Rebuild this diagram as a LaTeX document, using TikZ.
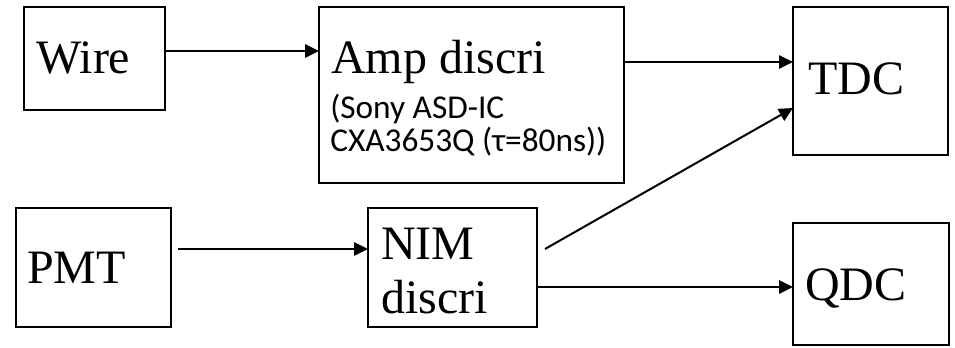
\documentclass[tikz,border=0pt]{standalone}
\usepackage{fontspec}
\setmainfont{Liberation Serif}
\newfontfamily\carlito{Carlito}
\usetikzlibrary{arrows.meta}

\begin{document}
\begin{tikzpicture}[x=0.75pt,y=-0.75pt,
  blk/.style={draw,line width=1.4pt,inner sep=0pt,outer sep=0pt,anchor=north west},
  lbl/.style={anchor=base west,inner sep=0pt,font=\fontsize{36}{37}\selectfont},
  sub/.style={anchor=base west,inner sep=0pt,font=\carlito\fontsize{25}{26}\selectfont},
  sig/.style={line width=1.5pt,-{Triangle[length=10.5pt,width=10pt]}}]
\useasboundingbox (0,0) rectangle (955,347);
\foreach \n/\xa/\ya/\xb/\yb in %
{wire/24/7/165/110,amp/319/7/624/183,tdc/793/7/948/155,
 pmt/16/208/171/327,nim/368/208/537/327,qdc/793/223/949/345} {
   \node[blk,minimum width={(\xb-\xa)*0.75pt},minimum height={(\yb-\ya)*0.75pt}] (\n) at (\xa,\ya) {};
}
\node[lbl] (wiretxt) at (36,73) {Wire};
\node[lbl] (amptxt) at (331,73) {Amp discri};
\node[sub] (sonytxt) at (330,118) {(Sony ASD-IC};
\node[sub] (cxatxt) at (330,151) {CXA3653Q (τ=80ns))};
\node[lbl] (tdctxt) at (808,94) {TDC};
\node[lbl] (pmttxt) at (27,283) {PMT};
\node[lbl] (nimtxt) at (381,259) {NIM};
\node[lbl] (disctxt) at (381,313) {discri};
\node[lbl] (qdctxt) at (805,300) {QDC};
\coordinate (pmtout) at (178,249);
\coordinate (nimout) at (545,249);
\draw[sig] (wire.east |- 0,51) -- (amp.west |- 0,51);
\draw[sig] (amp.east |- 0,62) -- (tdc.west |- 0,62);
\draw[sig] (pmtout) -- (nim.west |- pmtout);
\draw[sig] (nimout) -- (tdc.west |- 0,108);
\draw[sig] (nim.east |- 0,287) -- (qdc.west |- 0,287);
\end{tikzpicture}
\end{document}
